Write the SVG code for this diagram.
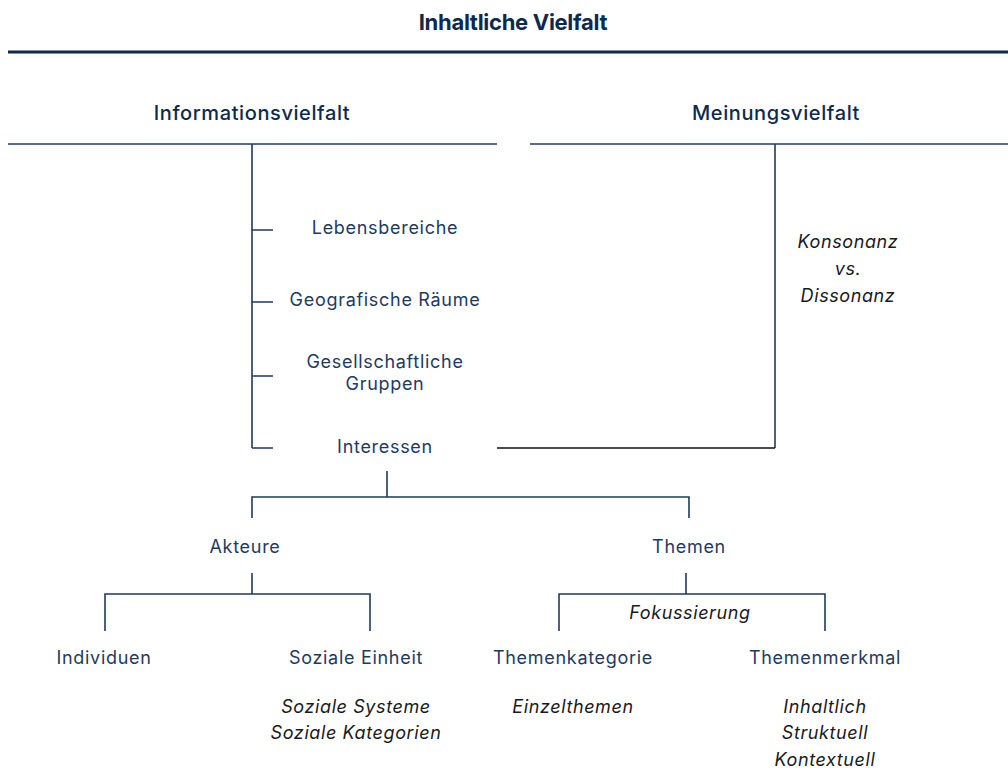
<svg xmlns="http://www.w3.org/2000/svg" width="1008" height="770" viewBox="0 0 1008 770">
<style>
.t{font-family:"Inter","Liberation Sans",sans-serif;font-size:18px;fill:#1e3a5f;text-anchor:middle;letter-spacing:0.7px}
.h{font-family:"Inter","Liberation Sans",sans-serif;font-size:20px;font-weight:500;fill:#0d2a4d;text-anchor:middle;letter-spacing:0.6px}
.b{font-family:"Inter","Liberation Sans",sans-serif;font-size:22px;font-weight:700;fill:#0d2a4d;text-anchor:middle;letter-spacing:-0.3px}
.i{font-family:"Inter","Liberation Sans",sans-serif;font-size:18px;font-style:italic;fill:#1a1a1a;text-anchor:middle;letter-spacing:0.6px}
.l{stroke:#1e3a5f;stroke-width:1.6;fill:none}
.k{stroke:#111;stroke-width:1.6;fill:none}
</style>
<rect width="1008" height="770" fill="#fff"/>
<g id="connectors">
<line x1="8" y1="52" x2="1008" y2="52" stroke="#0d2a4d" stroke-width="3"/>
<line x1="8" y1="144" x2="497" y2="144" class="l" stroke-width="2"/>
<line x1="530" y1="144" x2="1008" y2="144" class="l" stroke-width="2"/>
<path class="l" d="M252 144V448M252 230H273M252 302H273M252 376H273M252 448H273"/>
<path class="l" d="M775 144V448"/>
<line x1="497" y1="448" x2="775" y2="448" class="k"/>
<path class="l" d="M387 471V497M252 518V497H689V518"/>
<path class="l" d="M252 573V594M105 631V594H370V631"/>
<path class="l" d="M686 573V594M559 631V594H825V631"/>
</g>
<g id="title"><text class="b" x="513" y="30">Inhaltliche Vielfalt</text></g>
<g id="informationsvielfalt"><text class="h" x="252" y="120">Informationsvielfalt</text></g>
<g id="meinungsvielfalt"><text class="h" x="776" y="120">Meinungsvielfalt</text></g>
<g id="lebensbereiche"><text class="t" x="385" y="234">Lebensbereiche</text></g>
<g id="geografische"><text class="t" x="385" y="306">Geografische Räume</text></g>
<g id="gesellschaftliche"><text class="t" x="385" y="368">Gesellschaftliche</text><text class="t" x="385" y="390">Gruppen</text></g>
<g id="interessen"><text class="t" x="385" y="453">Interessen</text></g>
<g id="konsonanz"><text class="i" x="848" y="248">Konsonanz</text><text class="i" x="848" y="275">vs.</text><text class="i" x="848" y="302">Dissonanz</text></g>
<g id="akteure"><text class="t" x="245" y="553">Akteure</text></g>
<g id="themen"><text class="t" x="689" y="553">Themen</text></g>
<g id="individuen"><text class="t" x="104" y="664">Individuen</text></g>
<g id="soziale-einheit"><text class="t" x="356" y="664">Soziale Einheit</text><text class="i" x="356" y="713">Soziale Systeme</text><text class="i" x="356" y="739">Soziale Kategorien</text></g>
<g id="fokussierung"><text class="i" x="690" y="619">Fokussierung</text></g>
<g id="themenkategorie"><text class="t" x="573" y="664">Themenkategorie</text><text class="i" x="573" y="713">Einzelthemen</text></g>
<g id="themenmerkmal"><text class="t" x="825" y="664">Themenmerkmal</text><text class="i" x="825" y="713">Inhaltlich</text><text class="i" x="825" y="739">Struktuell</text><text class="i" x="825" y="766">Kontextuell</text></g>
</svg>
